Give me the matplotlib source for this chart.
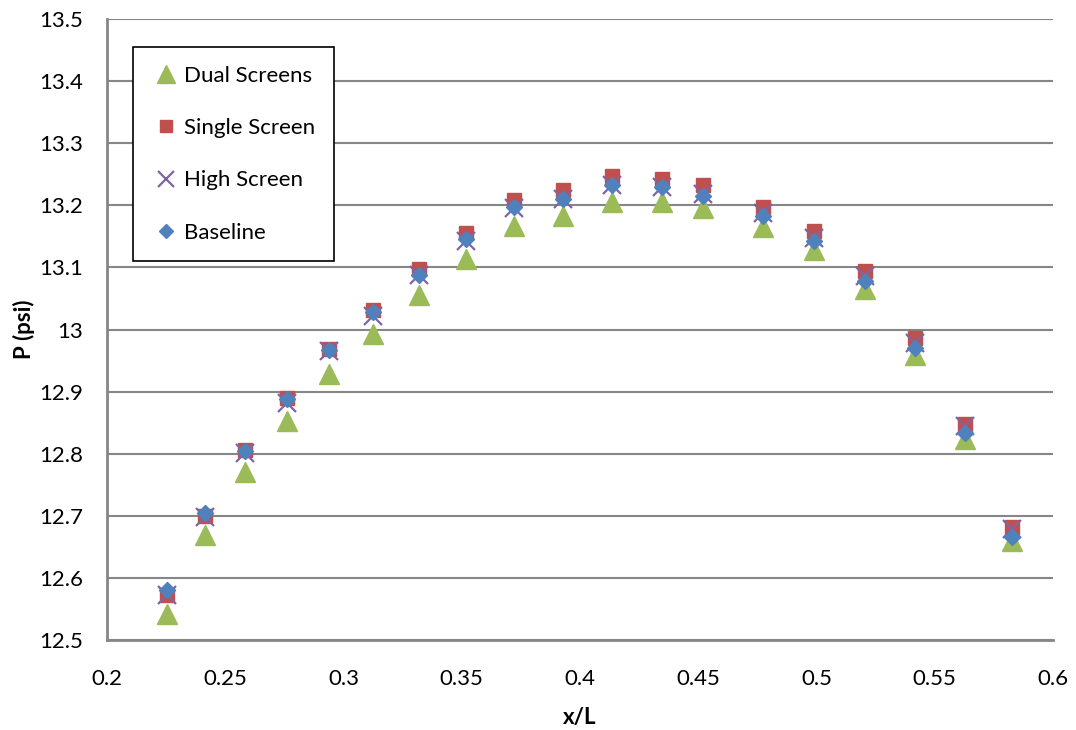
import matplotlib
matplotlib.use("Agg")
from matplotlib import pyplot as plt

plt.rcParams["font.family"] = ["Lato", "DejaVu Sans"]

x_over_L = [0.2254, 0.2414, 0.2584, 0.2761, 0.2939, 0.3125, 0.3319, 0.3518, 0.3721,
            0.3928, 0.4135, 0.4347, 0.4520, 0.4774, 0.4989, 0.5204, 0.5416, 0.5628, 0.5825]

dual_screens = [12.542, 12.669, 12.770, 12.852, 12.929, 12.992, 13.055, 13.114, 13.166,
                13.183, 13.205, 13.205, 13.195, 13.165, 13.128, 13.066, 12.959, 12.823, 12.660]
single_screen = [12.572, 12.700, 12.806, 12.890, 12.969, 13.031, 13.097, 13.156, 13.209,
                 13.224, 13.247, 13.243, 13.232, 13.198, 13.159, 13.095, 12.986, 12.848, 12.682]
high_screen = [12.572, 12.698, 12.801, 12.882, 12.966, 13.022, 13.088, 13.143, 13.195,
               13.210, 13.232, 13.229, 13.218, 13.188, 13.148, 13.086, 12.978, 12.844, 12.679]
baseline = [12.580, 12.704, 12.805, 12.888, 12.967, 13.028, 13.088, 13.146, 13.197,
            13.210, 13.233, 13.230, 13.215, 13.183, 13.143, 13.078, 12.970, 12.833, 12.666]

fig = plt.figure(figsize=(10.76, 7.3), dpi=100)
ax = fig.add_axes([107 / 1076, 1 - 640 / 730, (1053 - 107) / 1076, (640 - 19) / 730])

ax.plot(x_over_L, dual_screens, linestyle="none", marker="^", markersize=15,
        color="#9BBB59", label="Dual Screens", zorder=3)
ax.plot(x_over_L, single_screen, linestyle="none", marker="s", markersize=10,
        color="#C0504D", label="Single Screen", zorder=4)
ax.plot(x_over_L, high_screen, linestyle="none", marker="x", markersize=13,
        markeredgewidth=1.6, color="#8064A2", label="High Screen", zorder=5)
ax.plot(x_over_L, baseline, linestyle="none", marker="D", markersize=8,
        color="#4F81BD", label="Baseline", zorder=6)

ax.set_xlim(0.2, 0.6)
ax.set_ylim(12.5, 13.5)
ax.set_xticks([0.2, 0.25, 0.3, 0.35, 0.4, 0.45, 0.5, 0.55, 0.6])
ax.set_xticklabels(["0.2", "0.25", "0.3", "0.35", "0.4", "0.45", "0.5", "0.55", "0.6"])
ax.set_yticks([12.5, 12.6, 12.7, 12.8, 12.9, 13, 13.1, 13.2, 13.3, 13.4, 13.5])
ax.set_yticklabels(["12.5", "12.6", "12.7", "12.8", "12.9", "13", "13.1", "13.2",
                    "13.3", "13.4", "13.5"])
ax.tick_params(axis="y", length=0, labelsize=16, pad=17)
ax.tick_params(axis="x", length=0, labelsize=16, pad=21)
ax.grid(axis="y", color="#868686", linewidth=1.5)
ax.set_axisbelow(True)
for side in ["top", "right"]:
    ax.spines[side].set_visible(False)
for side in ["left", "bottom"]:
    ax.spines[side].set_color("#868686")
    ax.spines[side].set_linewidth(2)

ax.set_xlabel("x/L", fontsize=16, fontweight="bold", labelpad=13)
ax.set_ylabel("P (psi)", fontsize=16, fontweight="bold", labelpad=3)

leg = ax.legend(loc="upper left", bbox_to_anchor=(133 / 1076, 1 - 47 / 730),
                bbox_transform=fig.transFigure, fontsize=16, fancybox=False,
                framealpha=1, edgecolor="black", labelspacing=1.45,
                handlelength=1.3, handletextpad=0.15, borderpad=0.85,
                borderaxespad=0, numpoints=1, markerscale=0.9)
leg.get_frame().set_linewidth(1.2)

fig.savefig("out.png", dpi=100)
